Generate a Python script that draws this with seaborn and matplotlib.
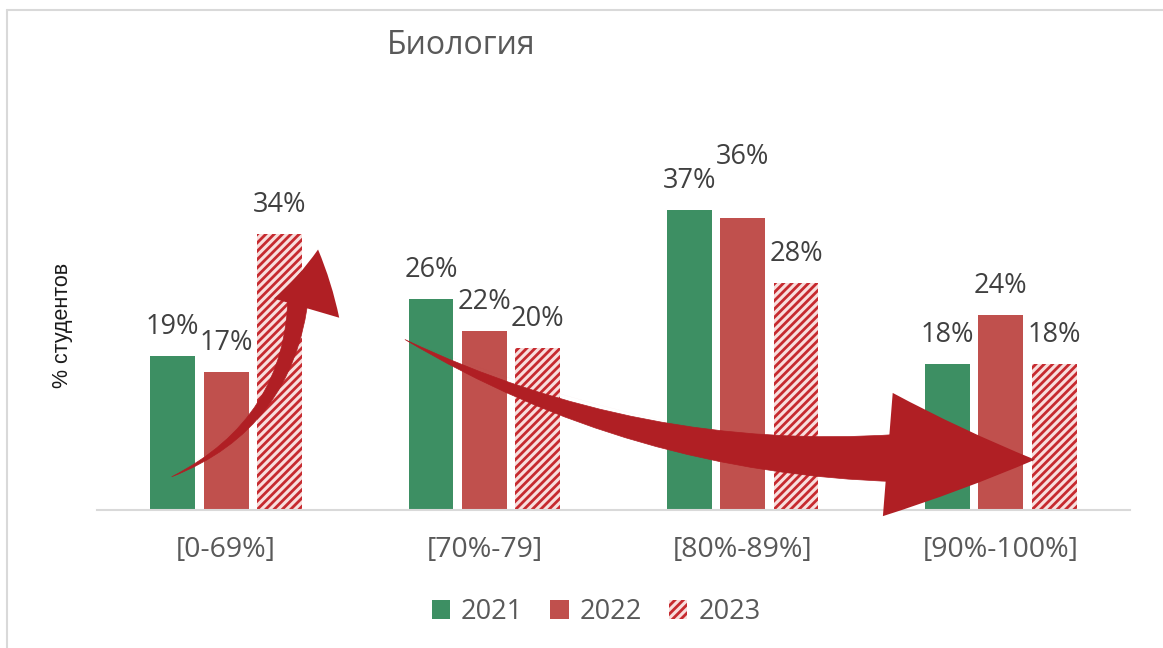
import numpy as np
import pandas as pd
import matplotlib
matplotlib.use("Agg")
import matplotlib.pyplot as plt
import seaborn as sns
from matplotlib.patches import Patch
from matplotlib.lines import Line2D

# chart data
categories = ["[0-69%]", "[70%-79]", "[80%-89%]", "[90%-100%]"]
years = ["2021", "2022", "2023"]
values_2021 = [19, 26, 37, 18]
values_2022 = [17, 22, 36, 24]
values_2023 = [34, 20, 28, 18]
title = "Биология"
ylabel = "% студентов"

df = pd.DataFrame({
    "cat": categories * 3,
    "year": [y for y in years for _ in categories],
    "val": values_2021 + values_2022 + values_2023,
})

green = "#3D8F63"
red = "#C0504D"
stripe_red = "#C62A2F"
stripe_bg = "#F8DEDD"
arrow_red = "#B01F24"

sns.set_theme(style="white")
plt.rcParams["font.family"] = ["Open Sans", "DejaVu Sans"]
plt.rcParams["hatch.linewidth"] = 2.0

fig = plt.figure(figsize=(11.63, 6.48), dpi=100)
ax = fig.add_axes([0.0834, 0.2130, 0.8882, 0.6373])

sns.barplot(data=df, x="cat", y="val", hue="year", hue_order=years,
            palette={"2021": green, "2022": red, "2023": stripe_bg},
            width=0.62, gap=0.16, saturation=1, linewidth=0,
            legend=False, ax=ax)

# hatch the 2023 bars
for p in ax.containers[2]:
    p.set_hatch("////")
    p.set_edgecolor(stripe_red)
    p.set_linewidth(0)

# data labels
extra = {(2, 1): 23}
for j, cont in enumerate(ax.containers):
    for i, p in enumerate(cont):
        h = p.get_height()
        ax.annotate(f"{h:.0f}%", (p.get_x() + p.get_width() / 2, h),
                    xytext=(0, 21 + extra.get((i, j), 0)),
                    textcoords="offset points", ha="center", va="center",
                    fontsize=19.5, color="#404040")

ax.set_xlim(-0.5, 3.5)
ax.set_ylim(0, 50.9)
ax.set_yticks([])
ax.set_xlabel("")
ax.set_ylabel(ylabel, fontsize=15.5, color="#1a1a1a", family=["Liberation Sans", "DejaVu Sans"])
ax.yaxis.set_label_coords(-0.023, 0.448)
ax.tick_params(axis="x", length=0, pad=19, labelsize=20.5, labelcolor="#595959")
for s in ["top", "right", "left"]:
    ax.spines[s].set_visible(False)
ax.spines["bottom"].set_color("#D9D9D9")
ax.spines["bottom"].set_linewidth(1.5)


def trend_arrow(start, base, tip, rad, rad_body, head_len, head_w, body_w):
    # arrow head on the full curve, plus a tapering wedge body under it
    ax.annotate("", xy=tip, xytext=start,
                arrowprops=dict(arrowstyle=f"simple,head_length={head_len},head_width={head_w},tail_width=0.01",
                                connectionstyle=f"arc3,rad={rad}", color=arrow_red,
                                mutation_scale=1, shrinkA=0, shrinkB=0, lw=0), zorder=5)
    ax.annotate("", xy=start, xytext=base,
                arrowprops=dict(arrowstyle=f"wedge,tail_width={body_w},shrink_factor=0.5",
                                connectionstyle=f"arc3,rad={rad_body}", color=arrow_red,
                                mutation_scale=1, shrinkA=0, shrinkB=0, lw=0.5), zorder=5)


trend_arrow((-0.21, 4.1), (0.28, 26.5), (0.356, 32.1), 0.25, -0.3, 43, 49, 15)
trend_arrow((0.693, 21.0), (2.60, 6.4), (3.132, 6.2), 0.1, -0.13, 106, 89, 34)

# title and legend
fig.text(461 / 1163, 1 - 45 / 648, title, ha="center", va="center",
         fontsize=23, color="#595959")
handles = [Patch(facecolor=green, linewidth=0),
           Patch(facecolor=red, linewidth=0),
           Patch(facecolor=stripe_bg, edgecolor=stripe_red, hatch="////", linewidth=0)]
leg = fig.legend(handles, years, loc="center", bbox_to_anchor=(596 / 1163, 1 - 612 / 648),
                 ncol=3, frameon=False, fontsize=19.5, handlelength=0.68, handleheight=0.68,
                 handletextpad=0.4, columnspacing=1.0)
for t in leg.get_texts():
    t.set_color("#595959")

# chart area border (left and top edges visible)
fig.add_artist(Line2D([7 / 1163, 7 / 1163], [0, 1 - 10 / 648], color="#D9D9D9", lw=1.5))
fig.add_artist(Line2D([7 / 1163, 1], [1 - 10 / 648, 1 - 10 / 648], color="#D9D9D9", lw=1.5))

fig.savefig("out.png", dpi=100)
